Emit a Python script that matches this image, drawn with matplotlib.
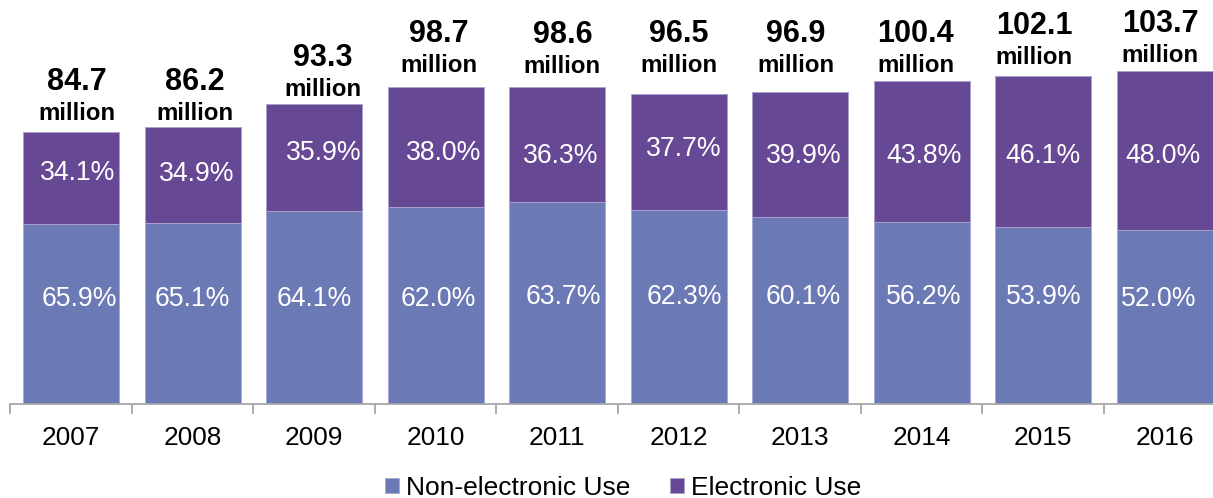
import matplotlib
matplotlib.use('Agg')
import matplotlib.pyplot as plt
import numpy as np

plt.rcParams['font.family'] = ['Liberation Sans', 'DejaVu Sans']

years = ['2007', '2008', '2009', '2010', '2011', '2012', '2013', '2014', '2015', '2016']
totals = [84.7, 86.2, 93.3, 98.7, 98.6, 96.5, 96.9, 100.4, 102.1, 103.7]  # million
non_electronic_pct = [65.9, 65.1, 64.1, 62.0, 63.7, 62.3, 60.1, 56.2, 53.9, 52.0]
electronic_pct = [34.1, 34.9, 35.9, 38.0, 36.3, 37.7, 39.9, 43.8, 46.1, 48.0]

# hand nudges for the data labels, in pixels (dx to the right, dy upward)
total_dx = [6.0, 2.7, 9.0, 3.7, 5.3, 0.7, -4.5, -5.9, -8.7, -4.4]
total_gap = [11.3, 7.2, 7.7, 14.4, 13.4, 21.4, 20.1, 8.9, 11.2, 8.7]
elec_dx = [6.7, 3.7, 9.9, 8.1, 4.1, 5.4, 3.9, 2.2, 0.4, -1.1]
elec_dy = [7.2, 3.5, 7.4, -3.5, -9.3, 5.1, 0.9, -1.8, -2.4, -3.3]
non_dx = [8.6, -0.4, 0.1, 2.7, 6.6, 5.4, 3.6, 2.2, 0.6, -5.6]
non_dy = [0, 0, 0, 0, 2.2, 2.2, 2.2, 2.2, 2.2, 0]
LOW_LABEL_Y = 33.3  # non-electronic labels sit on one line

C_NON = '#6b79b5'
C_EL = '#674894'
C_AXIS = '#a6a6a6'
PT = 0.72  # points per pixel at dpi 100

totals_a = np.array(totals)
non_el = totals_a * np.array(non_electronic_pct) / 100
el = totals_a * np.array(electronic_pct) / 100
x = np.arange(len(years))

W, H = 1213, 498
fig = plt.figure(figsize=(W / 100, H / 100), dpi=100)
ymax = 120
ax = fig.add_axes([10.3 / W, (H - 403.5) / H, 1215 / W, ymax * 3.211 / H])
ax.set_xlim(-0.5, len(years) - 0.5)
ax.set_ylim(0, ymax)

b1 = ax.bar(x, non_el, width=0.79, color=C_NON, edgecolor='#a9abd6', linewidth=0.7,
            label='Non-electronic Use')
b2 = ax.bar(x, el, bottom=non_el, width=0.79, color=C_EL, edgecolor='#a9a0cf', linewidth=0.7,
            label='Electronic Use')

for s in ['top', 'right', 'left']:
    ax.spines[s].set_visible(False)
ax.spines['bottom'].set_color(C_AXIS)
ax.spines['bottom'].set_linewidth(1.3)
ax.set_yticks([])
ax.set_xticks(x, years, fontsize=18.9)
ax.tick_params(axis='x', which='major', length=0, pad=16.5)
ax.set_xticks(np.arange(-0.5, len(years), 1), minor=True)
ax.tick_params(axis='x', which='minor', length=7, width=1.3, color=C_AXIS)

pct_fs = 19.2
cap_half = 0.358 * pct_fs / PT

for i in range(len(years)):
    # percentage of electronic use, inside the upper segment
    ax.annotate(f'{electronic_pct[i]:.1f}%', xy=(i, non_el[i] + el[i] / 2),
                xytext=(elec_dx[i] * PT, (elec_dy[i] - cap_half) * PT),
                textcoords='offset points', ha='center', va='baseline',
                color='white', fontsize=pct_fs)
    # percentage of non-electronic use
    ax.annotate(f'{non_electronic_pct[i]:.1f}%', xy=(i, LOW_LABEL_Y),
                xytext=(non_dx[i] * PT, (non_dy[i] - cap_half) * PT),
                textcoords='offset points', ha='center', va='baseline',
                color='white', fontsize=pct_fs)
    # total above the bar
    ax.annotate('million', xy=(i, totals[i]),
                xytext=(total_dx[i] * PT, total_gap[i] * PT),
                textcoords='offset points', ha='center', va='baseline',
                fontsize=17.3, fontweight='bold', annotation_clip=False)
    ax.annotate(f'{totals[i]:.1f}', xy=(i, totals[i]),
                xytext=(total_dx[i] * PT, (total_gap[i] + 30) * PT),
                textcoords='offset points', ha='center', va='baseline',
                fontsize=22, fontweight='bold', annotation_clip=False)

fig.legend(handles=[b1, b2], loc='upper left', bbox_to_anchor=(385 / W, 1 - 476 / H),
           ncol=2, frameon=False, fontsize=19, handlelength=0.53, handleheight=0.53,
           handletextpad=0.27, columnspacing=1.5, borderpad=0, borderaxespad=0)

fig.savefig('out.png', dpi=100)
